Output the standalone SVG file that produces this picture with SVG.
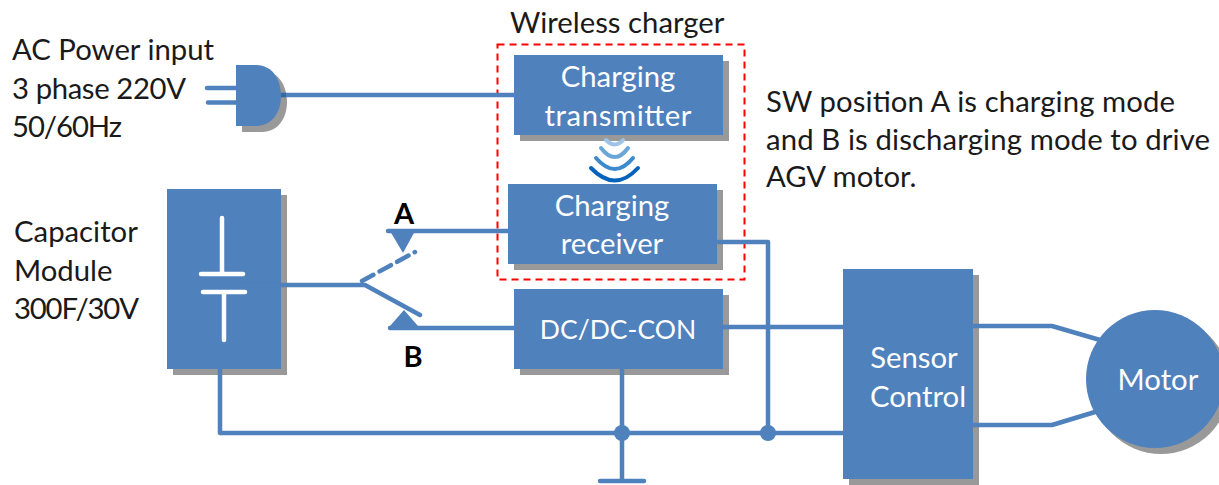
<svg xmlns="http://www.w3.org/2000/svg" width="1219" height="485" viewBox="0 0 1219 485">
<style>
text{font-family:"Lato","Liberation Sans",sans-serif;font-size:29.3px;fill:#1a1a1a}
.w{fill:#fff;text-anchor:middle}
.b{font-weight:700;font-size:29px;fill:#000;text-anchor:middle}
.box{fill:#4f81bd}
.sh{fill:#999}
.ln{fill:none;stroke:#4f81bd;stroke-width:4.500;stroke-linecap:round;stroke-linejoin:round}
.cap{fill:none;stroke:#fff;stroke-width:4.500;stroke-linecap:round}
.arc{fill:none;stroke-width:4;stroke-linecap:round}
</style>
<rect width="1219" height="485" fill="#fff"/>
<g id="labels">
<text x="510" y="33">Wireless charger</text>
<text x="12" y="60">AC Power input</text>
<text x="12" y="99" textLength="174">3 phase 220V</text>
<text x="12" y="137" textLength="110">50/60Hz</text>
<text x="14" y="242">Capacitor</text>
<text x="14" y="281">Module</text>
<text x="14" y="319" textLength="125">300F/30V</text>
<text x="766" y="112" textLength="409">SW position A is charging mode</text>
<text x="766" y="150" textLength="444">and B is discharging mode to drive</text>
<text x="766" y="187">AGV motor.</text>
<text class="b" x="404" y="224">A</text>
<text class="b" x="413" y="367">B</text>
</g>
<g id="wireless-frame"><rect x="497.500" y="44.500" width="247" height="235" fill="none" stroke="#f00" stroke-width="2" stroke-dasharray="7 5"/></g>
<g id="plug">
<path class="sh" d="M242 71H262C280 71 287 88 287 102C287 118 278 132 262 132H242Z"/>
<path class="ln" d="M207 88H236M208 102.500H236"/>
<path class="box" d="M236 65H256C274 65 281 82 281 96C281 112 272 126 256 126H236Z"/>
</g>
<g id="capacitor-module">
<rect class="sh" x="173" y="195" width="114" height="180"/>
<rect class="box" x="167" y="189" width="114" height="180"/>
<path class="cap" d="M222 218V273M201 274H243M203 292H245M224 293V340"/>
</g>
<g id="charging-transmitter">
<rect class="sh" x="520" y="61" width="209" height="80"/>
<rect class="box" x="514" y="55" width="209" height="80"/>
<text class="w" x="618" y="87">Charging</text>
<text class="w" x="618" y="126" textLength="147">transmitter</text>
</g>
<g id="wireless-waves">
<path class="arc" stroke="#9dc3e6" d="M606 140Q615 149 623 140"/>
<path class="arc" stroke="#6aa5d8" d="M601 148Q615 166 628 148"/>
<path class="arc" stroke="#3d8bcd" d="M596 158Q615 180 633 158"/>
<path class="arc" stroke="#0563bb" d="M591 168Q615 193 638 168"/>
</g>
<g id="charging-receiver">
<rect class="sh" x="514" y="190" width="209" height="80"/>
<rect class="box" x="508" y="184" width="209" height="80"/>
<text class="w" x="612" y="216">Charging</text>
<text class="w" x="612" y="254">receiver</text>
</g>
<g id="dc-dc-con">
<rect class="sh" x="520" y="295" width="209" height="80"/>
<rect class="box" x="514" y="289" width="209" height="80"/>
<text class="w" x="618" y="339" style="font-size:26.500px">DC/DC-CON</text>
</g>
<g id="sensor-control">
<rect class="sh" x="849" y="275" width="130" height="210"/>
<rect class="box" x="843" y="269" width="130" height="210"/>
<text class="w" x="914" y="368">Sensor</text>
<text class="w" x="918" y="407">Control</text>
</g>
<g id="motor">
<circle class="sh" cx="1161" cy="385" r="69"/>
<circle class="box" cx="1155" cy="379" r="69"/>
<text class="w" x="1158" y="390">Motor</text>
</g>
<g id="connectors">
<path class="ln" d="M281 95H514"/>
<path fill="none" stroke="#366a9f" stroke-width="4.500" d="M281 95H286"/>
<path class="ln" d="M240 285H365L420 315"/>
<path class="ln" stroke-dasharray="13 7" d="M362 281L415 252"/>
<path class="ln" d="M388 231H508"/>
<path class="ln" d="M390 328H514"/>
<path class="box" d="M390 231H415L403 253Z"/>
<path class="box" d="M390 326H418L404 310Z"/>
<path class="ln" d="M718 242H768M768 242V433"/>
<path class="ln" d="M723 327H843"/>
<path class="ln" d="M220 369V433H843"/>
<path class="ln" d="M622 369V481M600 481H644"/>
<circle class="box" cx="622" cy="433" r="8"/>
<circle class="box" cx="768" cy="433" r="8"/>
<path class="ln" d="M973 326H1052L1100 340"/>
<path class="ln" d="M973 425H1052L1095 412"/>
</g>
</svg>
